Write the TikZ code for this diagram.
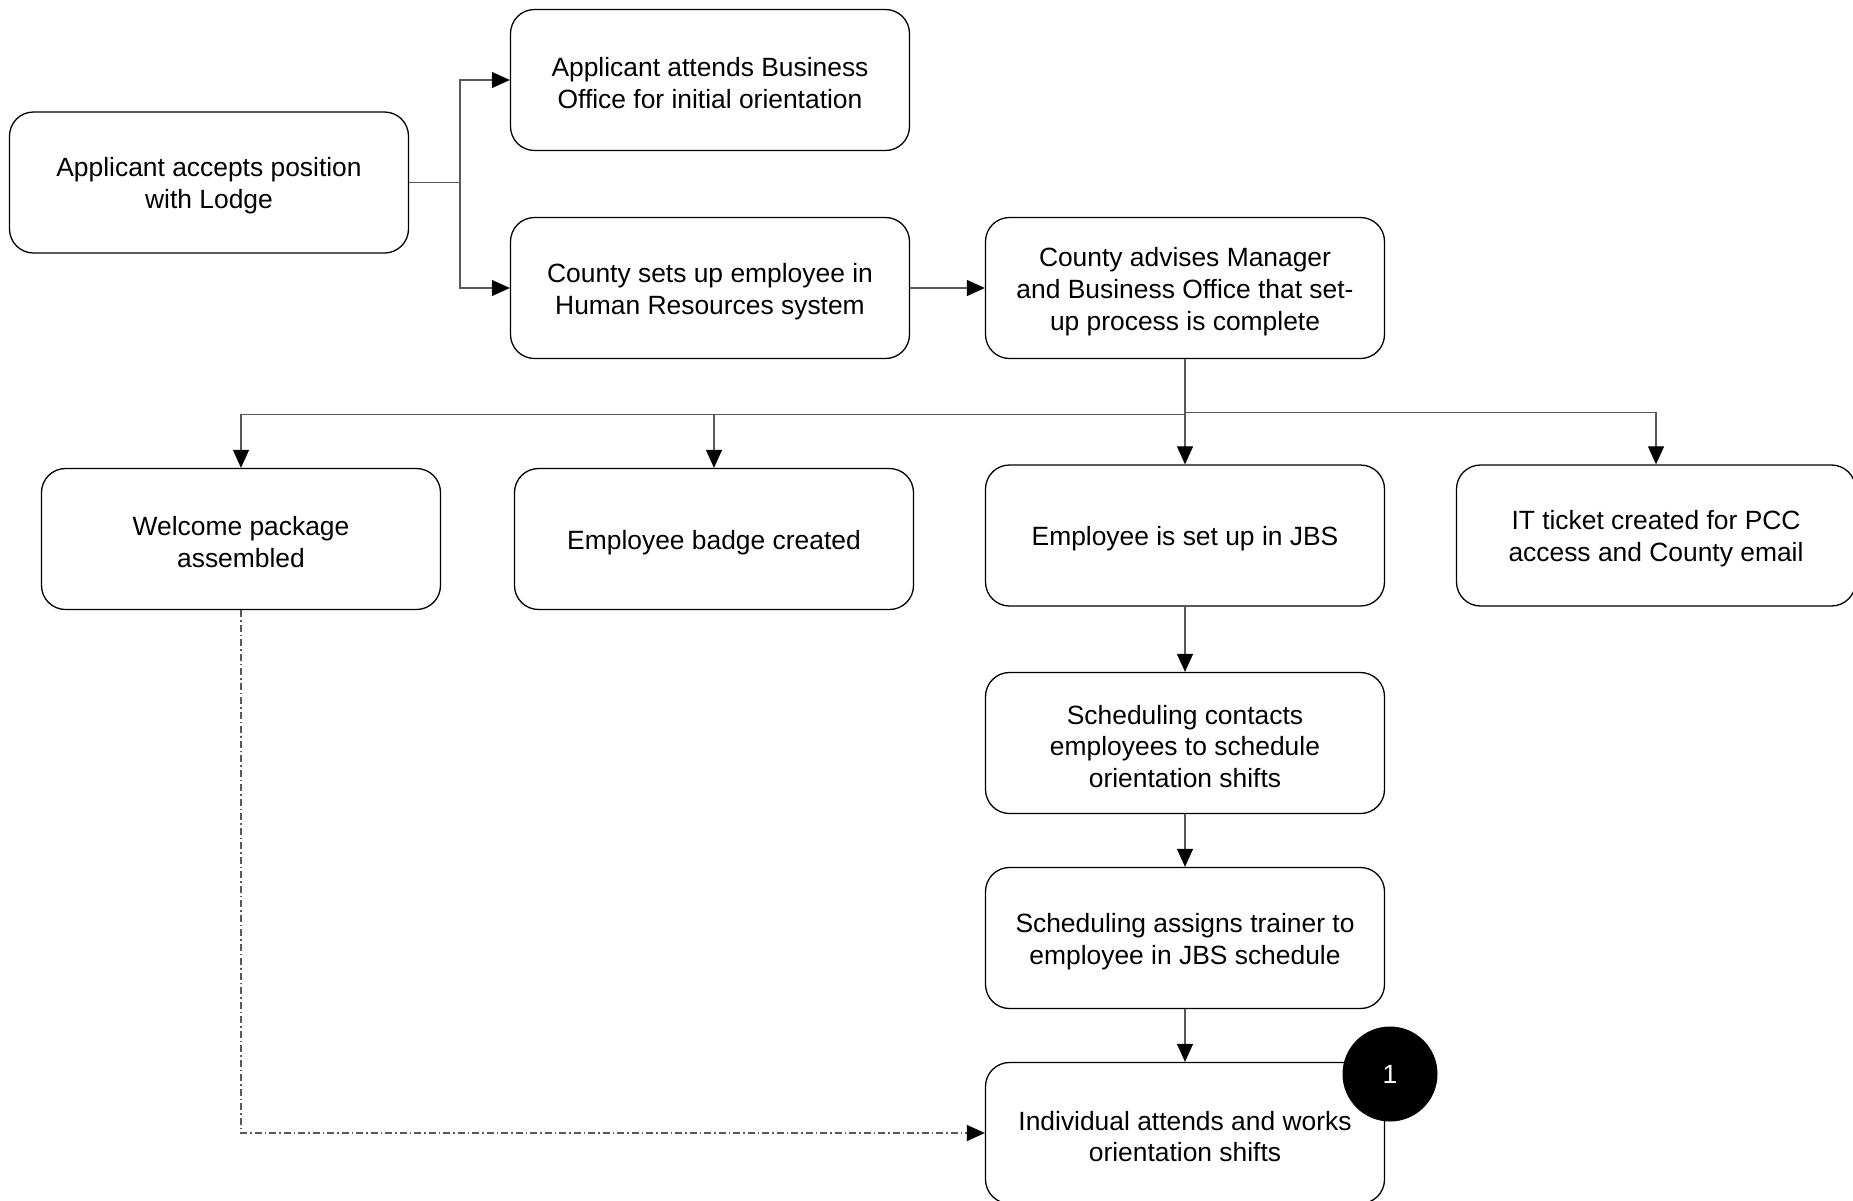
\documentclass[tikz,border=0pt]{standalone}
\usepackage{fontspec}
\setmainfont{Liberation Sans}
\usetikzlibrary{arrows.meta,positioning}
\begin{document}
\begin{tikzpicture}[x=1pt,y=-1pt,
  box/.style={draw=black,line width=1.3pt,rounded corners=24pt,minimum width=399pt,minimum height=141pt,inner sep=0pt,
    label={[align=center,inner sep=0pt,yshift=-3.5pt,font=\fontsize{26.4}{31.9}\selectfont]center:#1}},
  conn/.style={draw=black!65,line width=1.2pt,-{Triangle[length=18pt,width=16pt,fill=black,color=black]}},
  plain/.style={draw=black!65,line width=1.2pt},
  dd/.style={draw=black!65,line width=1.2pt,dash pattern=on 7pt off 3pt on 1.5pt off 3pt,-{Triangle[length=18pt,width=16pt,fill=black,color=black]}}]
\useasboundingbox (0,0) rectangle (1853,1200);
\fill[white] (0,0) rectangle (1853,1200);
\node[box={Applicant accepts position\\with Lodge}] (a) at (209,182.5) {};
\node[box={Applicant attends Business\\Office for initial orientation}] (b) at (710,80) {};
\node[box={County sets up employee in\\Human Resources system}] (c) at (710,288) {};
\node[box={County advises Manager\\and Business Office that set-\\up process is complete}] (d) at (1185,288) {};
\node[box={Welcome package\\assembled}] (w) at (241,539) {};
\node[box={Employee badge created}] (g) at (714,539) {};
\node[box={Employee is set up in JBS}] (j) at (1185,535.5) {};
\node[box={IT ticket created for PCC\\access and County email}] (it) at (1656,535.5) {};
\node[box={Scheduling contacts\\employees to schedule\\orientation shifts}] (s1) at (1185,743) {};
\node[box={Scheduling assigns trainer to\\employee in JBS schedule}] (s2) at (1185,938) {};
\node[box={Individual attends and works\\orientation shifts}] (ind) at (1185,1133) {};
\node[circle,fill=black,minimum size=95pt,inner sep=0pt,text=white,font=\fontsize{26.4}{31.9}\selectfont] (one) at (1390,1074) {1};
\coordinate (jn) at (460,182.5);
\draw[plain] (a.east) -- (jn);
\draw[conn] (jn) |- (b.west);
\draw[conn] (jn) |- (c.west);
\draw[conn] (c.east) -- (d.west);
\coordinate (bus) at (1185,412.5);
\coordinate (busl) at (1185,414.5);
\draw[plain] (d.south) -- (busl);
\draw[conn] (busl) -| (w.north);
\draw[conn] (busl) -| (g.north);
\draw[conn] (d.south) -- (j.north);
\draw[conn] (bus) -| (it.north);
\draw[conn] (j.south) -- (s1.north);
\draw[conn] (s1.south) -- (s2.north);
\draw[conn] (s2.south) -- (ind.north);
\draw[dd] (w.south) |- (ind.west);
\end{tikzpicture}
\end{document}
